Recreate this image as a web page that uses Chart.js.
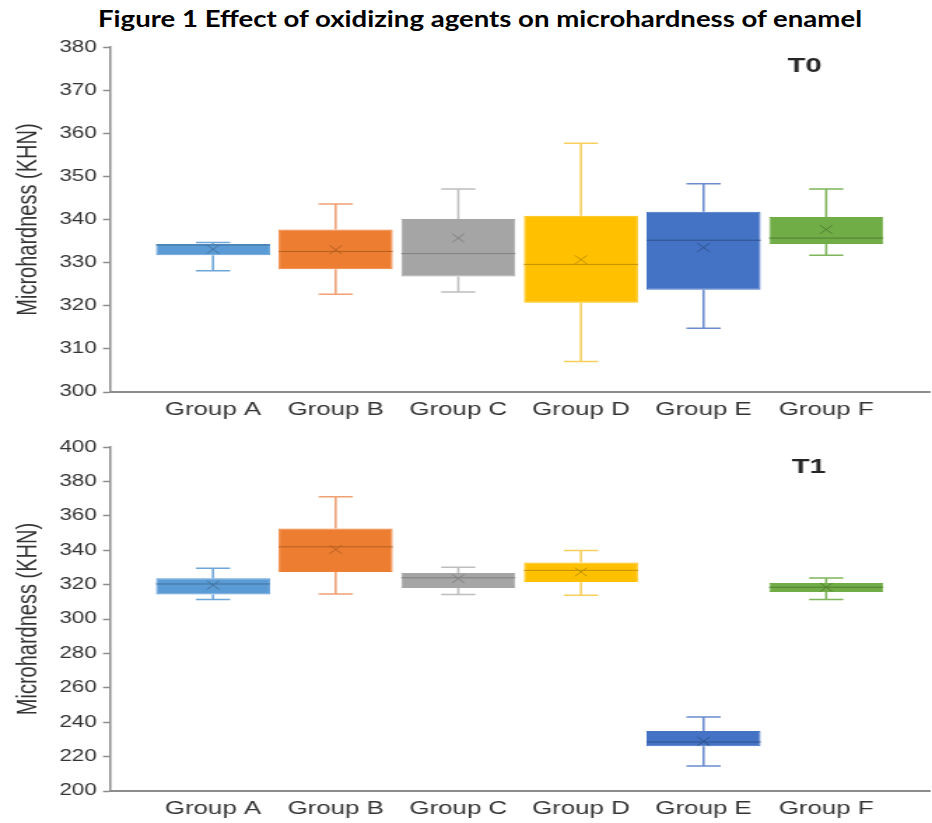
<!DOCTYPE html>
<html>
<head>
<meta charset="utf-8">
<script src="https://cdn.jsdelivr.net/npm/chart.js@4.4.1/dist/chart.umd.min.js"></script>
<style>
  html, body { margin: 0; padding: 0; background: #fff; width: 932px; height: 823px; overflow: hidden; }
  #title { position: absolute; left: 98px; top: 6px; font: bold 22px Lato, "Open Sans", sans-serif; line-height: 26px;
           color: #000; white-space: nowrap; transform-origin: 0 0; }
  .panel { position: absolute; left: 0; width: 666px; transform-origin: 0 0; transform: scaleX(1.3994); }
  #p0 { top: 33px; height: 389px; }
  #p1 { top: 433px; height: 388px; }
  canvas { display: block; }
</style>
</head>
<body>
<div id="title">Figure 1 Effect of oxidizing agents on microhardness of enamel</div>
<div class="panel" id="p0"><canvas id="c0" width="666" height="389"></canvas></div>
<div class="panel" id="p1"><canvas id="c1" width="666" height="388"></canvas></div>
<script>
// Groups on the horizontal axis
const categories = ['Group A', 'Group B', 'Group C', 'Group D', 'Group E', 'Group F'];

// T0 five-number summaries and means (KHN)
const t0Min    = [328.1, 322.7, 323.2, 307.1, 314.8, 331.7];
const t0Q1     = [331.7, 328.5, 326.8, 320.7, 323.7, 334.3];
const t0Median = [334.1, 332.6, 332.1, 329.6, 335.2, 335.7];
const t0Q3     = [334.3, 337.7, 340.1, 340.9, 341.8, 340.6];
const t0Max    = [334.7, 343.6, 347.1, 357.7, 348.3, 347.1];
const t0Mean   = [333.1, 333.0, 335.7, 330.7, 333.5, 337.7];

// T1 five-number summaries and means (KHN)
const t1Min    = [311.4, 314.5, 314.3, 313.9, 214.5, 311.4];
const t1Q1     = [314.3, 327.4, 318.1, 321.6, 226.0, 315.8];
const t1Median = [320.4, 342.0, 324.0, 328.3, 228.5, 318.5];
const t1Q3     = [323.7, 352.6, 326.8, 332.9, 234.9, 321.0];
const t1Max    = [329.5, 371.1, 330.1, 339.9, 243.0, 323.9];
const t1Mean   = [319.7, 340.5, 323.5, 327.4, 228.9, 318.5];

// Y-axis tick settings
const t0Ticks = { min: 300, max: 380, step: 10 };
const t1Ticks = { min: 200, max: 400, step: 20 };

// Colours per group
const fillColors    = ['#5B9BD5', '#ED7D31', '#A5A5A5', '#FFC000', '#4472C4', '#70AD47'];
const whiskerColors = ['#6FA6DA', '#F0A072', '#BDBDBD', '#F6CF5E', '#6A8CCF', '#7EB55A'];
const darkColors    = ['#41719C', '#B4601F', '#7F7F7F', '#BF9000', '#2F528F', '#507E32'];

const FONT = '"Liberation Sans", Arial, sans-serif';
const AXIS_GREY = '#8c8c8c';
const TEXT_GREY = '#333333';

// Whiskers, median lines, mean markers and the panel tag
const boxDetails = {
  id: 'boxDetails',
  afterDatasetsDraw(chart, args, opts) {
    const { ctx } = chart;
    const x = chart.scales.x, y = chart.scales.y;
    const meta = chart.getDatasetMeta(0);
    const s = opts.stats;
    ctx.save();
    ctx.lineCap = 'butt';
    s.min.forEach((_, i) => {
      const cx = x.getPixelForValue(i);
      const half = meta.data[i].width / 2;
      const cap = half * 0.3;
      const yMin = y.getPixelForValue(s.min[i]);
      const yQ1 = y.getPixelForValue(s.q1[i]);
      const yQ3 = y.getPixelForValue(s.q3[i]);
      const yMax = y.getPixelForValue(s.max[i]);
      ctx.strokeStyle = whiskerColors[i];
      ctx.lineWidth = 1.6;
      ctx.beginPath();
      ctx.moveTo(cx, yQ3); ctx.lineTo(cx, yMax);
      ctx.moveTo(cx, yQ1); ctx.lineTo(cx, yMin);
      ctx.stroke();
      ctx.lineWidth = 1.5;
      ctx.beginPath();
      ctx.moveTo(cx - cap, yMax); ctx.lineTo(cx + cap, yMax);
      ctx.moveTo(cx - cap, yMin); ctx.lineTo(cx + cap, yMin);
      ctx.stroke();
      // median
      const yMed = y.getPixelForValue(s.median[i]);
      ctx.strokeStyle = darkColors[i];
      ctx.lineWidth = 1;
      ctx.beginPath();
      ctx.moveTo(cx - half, yMed); ctx.lineTo(cx + half, yMed);
      ctx.stroke();
      // mean marker
      const yMean = y.getPixelForValue(s.mean[i]);
      const m = 4.3;
      ctx.beginPath();
      ctx.moveTo(cx - m, yMean - m); ctx.lineTo(cx + m, yMean + m);
      ctx.moveTo(cx - m, yMean + m); ctx.lineTo(cx + m, yMean - m);
      ctx.stroke();
    });
    ctx.font = 'bold 21px ' + FONT;
    ctx.fillStyle = '#262626';
    ctx.textAlign = 'center';
    ctx.textBaseline = 'middle';
    ctx.fillText(opts.tag, opts.tagX, opts.tagY);
    ctx.restore();
  }
};

function boxChart(canvasId, stats, ticks, tag, tagPos) {
  return new Chart(document.getElementById(canvasId), {
    type: 'bar',
    data: {
      datasets: [{
        data: categories.map((c, i) => ({ x: i, y: [stats.q1[i], stats.q3[i]] })),
        backgroundColor: fillColors,
        borderColor: fillColors,
        borderWidth: 1,
        borderSkipped: false,
        barPercentage: 0.93,
        categoryPercentage: 1.0
      }]
    },
    options: {
      responsive: false,
      animation: false,
      devicePixelRatio: 1,
      layout: { padding: { top: 12, right: 2, bottom: 0, left: 0 } },
      plugins: {
        legend: { display: false },
        tooltip: { enabled: false },
        boxDetails: { stats, tag, tagX: tagPos[0], tagY: tagPos[1] }
      },
      scales: {
        x: {
          type: 'linear',
          min: -0.84,
          max: 5.84,
          offset: false,
          afterBuildTicks: s => { s.ticks = categories.map((c, i) => ({ value: i })); },
          afterFit: s => { s.height = 30; },
          ticks: {
            callback: v => categories[v],
            autoSkip: false,
            maxRotation: 0,
            padding: 7,
            color: TEXT_GREY,
            font: { family: FONT, size: 18.5 }
          },
          grid: { drawOnChartArea: false, drawTicks: false },
          border: { display: true, color: AXIS_GREY, width: 2 }
        },
        y: {
          min: ticks.min,
          max: ticks.max,
          afterFit: s => { s.width = 78.6; },
          ticks: {
            stepSize: ticks.step,
            padding: 4.5,
            color: TEXT_GREY,
            font: { family: FONT, size: 16 }
          },
          grid: { drawOnChartArea: false, drawTicks: true, tickLength: 5, color: AXIS_GREY, tickWidth: 1.5 },
          border: { display: true, color: AXIS_GREY, width: 1.5 },
          title: {
            display: true,
            text: 'Microhardness (KHN)',
            color: TEXT_GREY,
            font: { family: FONT, size: 20 },
            padding: { top: 8, bottom: 0 }
          }
        }
      }
    },
    plugins: [boxDetails]
  });
}

boxChart('c0',
  { min: t0Min, q1: t0Q1, median: t0Median, q3: t0Q3, max: t0Max, mean: t0Mean },
  t0Ticks, 'T0', [575, 33]);
boxChart('c1',
  { min: t1Min, q1: t1Q1, median: t1Median, q3: t1Q3, max: t1Max, mean: t1Mean },
  t1Ticks, 'T1', [578, 34]);

// fit the heading to its line
const title = document.getElementById('title');
const w = title.getBoundingClientRect().width;
title.style.transform = 'scaleX(' + (764 / w) + ')';
</script>
</body>
</html>
